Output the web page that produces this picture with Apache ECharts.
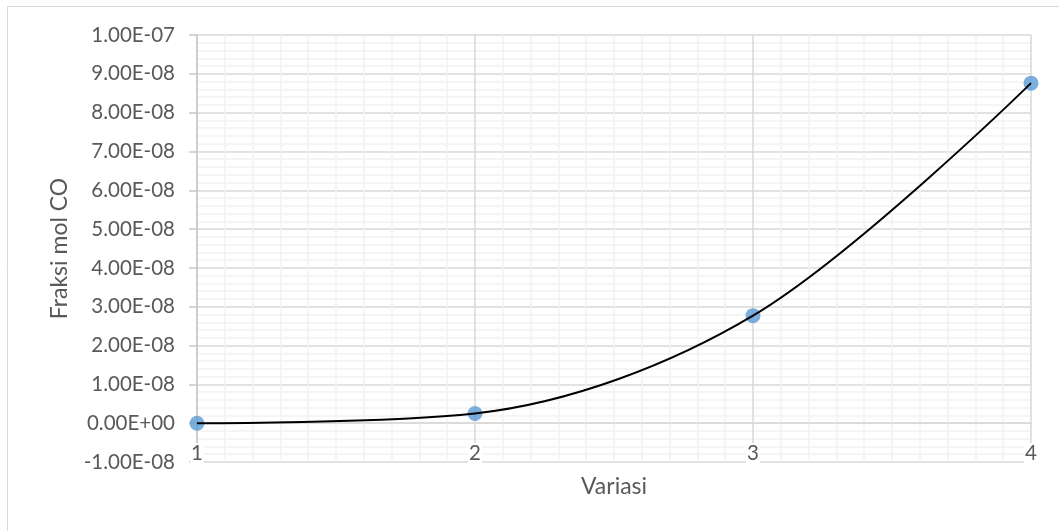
<!DOCTYPE html>
<html>
<head>
<meta charset="utf-8">
<script src="https://cdn.jsdelivr.net/npm/echarts@6/dist/echarts.min.js"></script>
<style>
html,body{margin:0;padding:0;background:#fff;}
#chart{width:1059px;height:531px;}
</style>
</head>
<body>
<div id="chart"></div>
<script>
// Data
const variasi = [1, 2, 3, 4];
const fraksiMolCO = [0, 2.5e-9, 2.77e-8, 8.76e-8];
const xTickLabels = ['1', '2', '3', '4'];
const xAxisTitle = 'Variasi';
const yAxisTitle = 'Fraksi mol CO';

function sciLabel(v) {
  if (Math.abs(v) < 1e-20) return '0.00E+00';
  const s = v.toExponential(2);
  const m = s.split('e');
  const sign = m[1][0] === '-' ? '-' : '+';
  let exp = m[1].replace(/^[+-]/, '');
  if (exp.length < 2) exp = '0' + exp;
  return m[0] + 'E' + sign + exp;
}

const points = variasi.map((x, i) => [x, fraksiMolCO[i]]);
const font = 'Lato, "Open Sans", sans-serif';

const chart = echarts.init(document.getElementById('chart'));
chart.setOption({
  animation: false,
  backgroundColor: '#fff',
  graphic: [{
    type: 'rect',
    shape: { x: 7.5, y: 6.5, width: 1200, height: 700 },
    style: { fill: 'none', stroke: '#D9D9D9', lineWidth: 1 },
    silent: true, z: -10
  }],
  grid: { left: 197, right: 28, top: 35, bottom: 69, containLabel: false },
  xAxis: {
    type: 'value',
    min: 1, max: 4, interval: 1,
    name: xAxisTitle,
    nameLocation: 'middle',
    nameGap: 13,
    nameTextStyle: { fontFamily: font, fontSize: 23, color: '#595959', verticalAlign: 'top' },
    axisLine: { show: true, lineStyle: { color: '#D9D9D9', width: 1.5 } },
    axisTick: { show: false },
    axisLabel: {
      fontFamily: font, fontSize: 20.5, color: '#595959',
      verticalAlign: 'bottom', margin: 2,
      backgroundColor: '#fff', padding: [0, 1, 0, 1],
      formatter: function (v) { const i = variasi.indexOf(v); return i >= 0 ? xTickLabels[i] : ''; }
    },
    splitLine: { show: true, lineStyle: { color: '#D9D9D9', width: 1.5 } },
    minorTick: { show: false, splitNumber: 10 },
    minorSplitLine: { show: true, lineStyle: { color: '#F2F2F2', width: 1.5 } }
  },
  yAxis: {
    type: 'value',
    min: -1e-8, max: 1e-7, interval: 1e-8,
    name: yAxisTitle,
    nameLocation: 'middle',
    nameGap: 126,
    nameTextStyle: { fontFamily: font, fontSize: 23, color: '#595959' },
    axisLine: { show: true, lineStyle: { color: '#C8C8C8', width: 1.5 } },
    axisTick: { show: true, length: 8, lineStyle: { color: '#C8C8C8', width: 1.5 } },
    axisLabel: {
      fontFamily: font, fontSize: 20.5, color: '#595959', margin: 22,
      formatter: sciLabel
    },
    splitLine: { show: true, lineStyle: { color: '#D9D9D9', width: 1.5 } },
    minorTick: { show: false, splitNumber: 5 },
    minorSplitLine: { show: true, lineStyle: { color: '#F2F2F2', width: 1.5 } }
  },
  series: [
    {
      type: 'scatter',
      data: points,
      symbol: 'circle',
      symbolSize: 15,
      itemStyle: { color: '#5B9BD5' },
      z: 2
    },
    {
      type: 'line',
      data: points,
      smooth: 0.33,
      showSymbol: false,
      lineStyle: { color: '#000', width: 2 },
      z: 3
    }
  ]
});
</script>
</body>
</html>
